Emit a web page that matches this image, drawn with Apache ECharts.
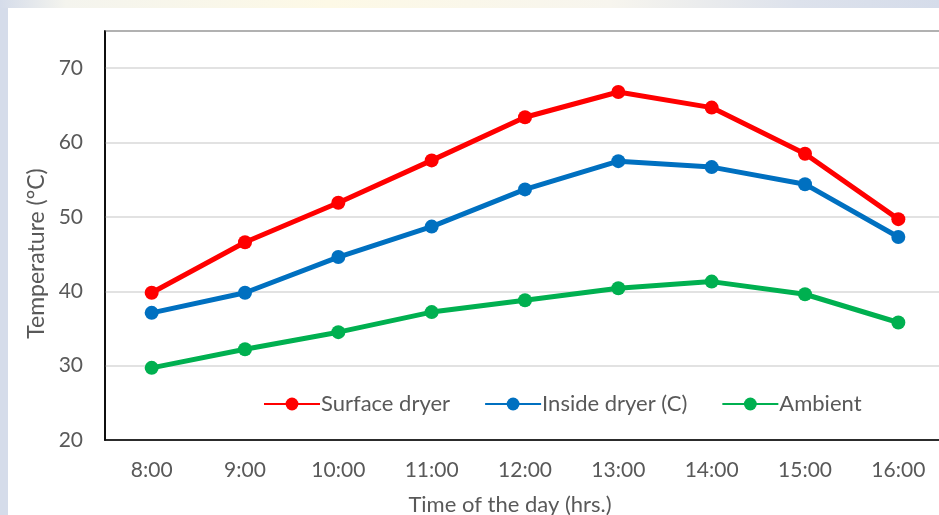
<!DOCTYPE html>
<html>
<head>
<meta charset="utf-8">
<script src="https://cdn.jsdelivr.net/npm/echarts@6/dist/echarts.min.js"></script>
<style>html,body{margin:0;padding:0;background:#fff;}#c{width:939px;height:515px;}</style>
</head>
<body>
<div id="c"></div>
<script>
const categories = ['8:00','9:00','10:00','11:00','12:00','13:00','14:00','15:00','16:00'];
const surfaceDryer = [39.8, 46.6, 51.9, 57.6, 63.4, 66.8, 64.7, 58.5, 49.7];
const insideDryer = [37.1, 39.8, 44.6, 48.7, 53.7, 57.5, 56.7, 54.4, 47.3];
const ambient = [29.7, 32.2, 34.5, 37.2, 38.8, 40.4, 41.3, 39.6, 35.8];
const seriesNames = ['Surface dryer', 'Inside dryer (C)', 'Ambient'];

const font = 'Lato, "Open Sans", sans-serif';
const chart = echarts.init(document.getElementById('c'), null, {renderer: 'canvas'});
function mk(name, data, color) {
  return {
    name, type: 'line', data,
    symbol: 'circle', symbolSize: 14,
    lineStyle: {color, width: 5},
    itemStyle: {color},
    z: 5
  };
}
chart.setOption({
  backgroundColor: '#ffffff',
  animation: false,
  graphic: [
    {type: 'rect', shape: {x: 0, y: 0, width: 8, height: 515}, style: {fill: '#d5dcea'}, z: -10},
    {type: 'rect', shape: {x: 0, y: 0, width: 939, height: 8},
     style: {fill: new echarts.graphic.LinearGradient(0, 0, 1, 0, [
       {offset: 0, color: '#d5dcea'}, {offset: 0.07, color: '#f4f4ee'},
       {offset: 0.35, color: '#fdf9e6'}, {offset: 0.65, color: '#f7f5ee'},
       {offset: 0.85, color: '#dde2ec'}, {offset: 1, color: '#d5dcea'}])}, z: -10}
  ],
  grid: {left: 105, top: 31, width: 840, height: 409, outerBoundsMode: 'none', containLabel: false,
         show: true, borderColor: '#000', borderWidth: 1.5, backgroundColor: 'transparent'},
  legend: {
    left: 258, top: 388, itemWidth: 56, itemHeight: 16, itemGap: 34,
    textStyle: {fontFamily: font, fontSize: 22, color: '#595959', padding: [0,0,0,-4]},
    data: seriesNames
  },
  xAxis: {
    type: 'category', data: categories, boundaryGap: true,
    axisLine: {show: true, lineStyle: {color: '#000', width: 1.5}},
    axisTick: {show: false},
    axisLabel: {fontFamily: font, fontSize: 21, color: '#595959', margin: 20},
    name: 'Time of the day (hrs.)', nameLocation: 'middle', nameGap: 54,
    nameTextStyle: {fontFamily: font, fontSize: 22, color: '#595959', padding: [0, 30, 0, 0]},
    splitLine: {show: false}
  },
  yAxis: {
    type: 'value', min: 20, max: 75, interval: 10,
    axisLine: {show: true, lineStyle: {color: '#000', width: 1.5}},
    axisTick: {show: false},
    axisLabel: {fontFamily: font, fontSize: 21, color: '#595959', margin: 22, showMaxLabel: false},
    splitLine: {show: true, lineStyle: {color: '#d9d9d9', width: 1.5}},
    name: 'Temperature (°C)', nameLocation: 'middle', nameGap: 53,
    nameTextStyle: {fontFamily: font, fontSize: 23, color: '#595959', padding: [0, 36, 0, 0]}
  },
  series: [
    mk(seriesNames[0], surfaceDryer, '#ff0000'),
    mk(seriesNames[1], insideDryer, '#0070c0'),
    mk(seriesNames[2], ambient, '#00b050')
  ]
});
</script>
</body>
</html>
